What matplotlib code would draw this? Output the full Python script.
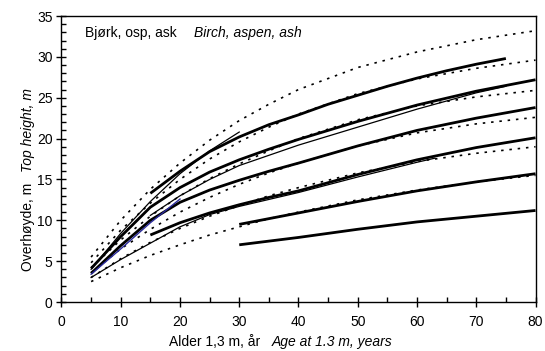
import numpy as np
import matplotlib.pyplot as plt
from matplotlib.ticker import MultipleLocator

plt.rcParams['font.family'] = ['Liberation Sans', 'DejaVu Sans']

# site index curves, thick (H40 = 23, 20, 17, 14, 11, 8)
age_t23 = [15, 20, 25, 30, 35, 40, 45, 50, 55, 60, 65, 70, 75]
h_t23 = [13.3, 16.0, 18.4, 20.2, 21.7, 22.9, 24.2, 25.3, 26.4, 27.4, 28.3, 29.1, 29.8]

age_t20 = [5, 10, 15, 20, 25, 30, 35, 40, 50, 60, 70, 80]
h_t20 = [4.1, 8.0, 11.6, 14.0, 15.9, 17.4, 18.7, 19.9, 22.1, 24.1, 25.8, 27.2]

age_t17 = [5, 10, 15, 20, 25, 30, 35, 40, 50, 60, 70, 80]
h_t17 = [3.5, 6.9, 10.0, 12.2, 13.7, 14.9, 16.0, 17.0, 19.1, 21.0, 22.5, 23.8]

age_t14 = [15, 20, 25, 30, 35, 40, 50, 60, 70, 80]
h_t14 = [8.2, 9.7, 10.9, 11.9, 12.8, 13.6, 15.6, 17.4, 18.9, 20.1]

age_t11 = [30, 40, 50, 60, 70, 80]
h_t11 = [9.5, 10.9, 12.3, 13.6, 14.7, 15.7]

age_t8 = [30, 40, 50, 60, 70, 80]
h_t8 = [7.0, 7.9, 8.9, 9.8, 10.5, 11.2]

# thin curves
age_a = [5, 10, 15, 20, 25, 30]
h_a = [4.0, 8.4, 12.3, 15.7, 18.5, 20.8]

age_b = [15, 20, 25, 30, 40, 50, 60, 70, 75]
h_b = [10.6, 13.0, 15.0, 16.7, 19.2, 21.4, 23.6, 25.6, 26.4]

age_c = [5, 10, 15, 20, 25, 30, 40, 50, 60, 63]
h_c = [3.0, 5.2, 7.2, 9.2, 10.7, 11.7, 13.4, 15.3, 17.1, 17.6]

age_blue = [5, 10, 15, 20]
h_blue = [3.4, 6.5, 9.7, 12.6]

# dotted curves (H40 = 26, 23, 20, 17, 14, 11)
age_d = [5, 10, 15, 20, 25, 30, 35, 40, 50, 60, 70, 80]
h_d = [
    [5.5, 10.0, 13.8, 17.0, 19.8, 22.2, 24.2, 26.0, 28.7, 30.6, 32.1, 33.2],
    [4.8, 8.8, 12.1, 15.0, 17.5, 19.6, 21.4, 23.0, 25.5, 27.3, 28.6, 29.6],
    [4.2, 7.6, 10.5, 13.0, 15.1, 16.9, 18.5, 20.0, 22.3, 24.0, 25.1, 25.9],
    [3.6, 6.5, 8.9, 11.0, 12.8, 14.4, 15.8, 17.0, 19.1, 20.7, 21.8, 22.6],
    [3.0, 5.3, 7.3, 9.0, 10.5, 11.8, 13.0, 14.0, 15.8, 17.2, 18.2, 19.0],
    [2.5, 4.2, 5.7, 7.0, 8.2, 9.2, 10.2, 11.0, 12.5, 13.7, 14.7, 15.5],
]

fig = plt.figure(figsize=(5.45, 3.51), dpi=100)
ax = fig.add_axes([0.1128, 0.1396, 0.8698, 0.8148])

for h in h_d:
    ax.plot(age_d, h, color='black', lw=1.2, ls=(0, (1.5, 3.5)))

for a, h in [(age_a, h_a), (age_b, h_b), (age_c, h_c)]:
    ax.plot(a, h, color='black', lw=0.9)

for a, h in [(age_t23, h_t23), (age_t20, h_t20), (age_t17, h_t17),
             (age_t14, h_t14), (age_t11, h_t11), (age_t8, h_t8)]:
    ax.plot(a, h, color='black', lw=2.0, solid_capstyle='butt')

ax.plot(age_blue, h_blue, color='#2a2a9a', lw=1.0)

ax.set_xlim(0, 80)
ax.set_ylim(0, 35)
ax.xaxis.set_major_locator(MultipleLocator(10))
ax.xaxis.set_minor_locator(MultipleLocator(5))
ax.yaxis.set_major_locator(MultipleLocator(5))
ax.yaxis.set_minor_locator(MultipleLocator(1))
ax.tick_params(which='major', direction='inout', length=7, width=1, labelsize=10)
ax.tick_params(axis='x', which='major', pad=6)
ax.tick_params(axis='y', which='major', pad=3)
ax.tick_params(which='minor', direction='in', length=3.5, width=1)
ax.tick_params(axis='y', which='both', right=False)
ax.tick_params(axis='x', which='both', top=False)
for s in ax.spines.values():
    s.set_linewidth(1.0)

ax.text(4, 32.9, 'Bjørk, osp, ask', fontsize=10, va='center')
ax.text(22.4, 32.9, 'Birch, aspen, ash', fontsize=10, style='italic', va='center')

fig.text(0.477, 0.026, 'Alder 1,3 m, år', fontsize=10, ha='right', va='center')
fig.text(0.499, 0.026, 'Age at 1.3 m, years', fontsize=10, style='italic', ha='left', va='center')
fig.text(0.052, 0.479, 'Overhøyde, m', fontsize=10, rotation=90, ha='center', va='top')
fig.text(0.052, 0.510, 'Top height, m', fontsize=10, style='italic', rotation=90, ha='center', va='bottom')

fig.savefig('out.png', dpi=100)
